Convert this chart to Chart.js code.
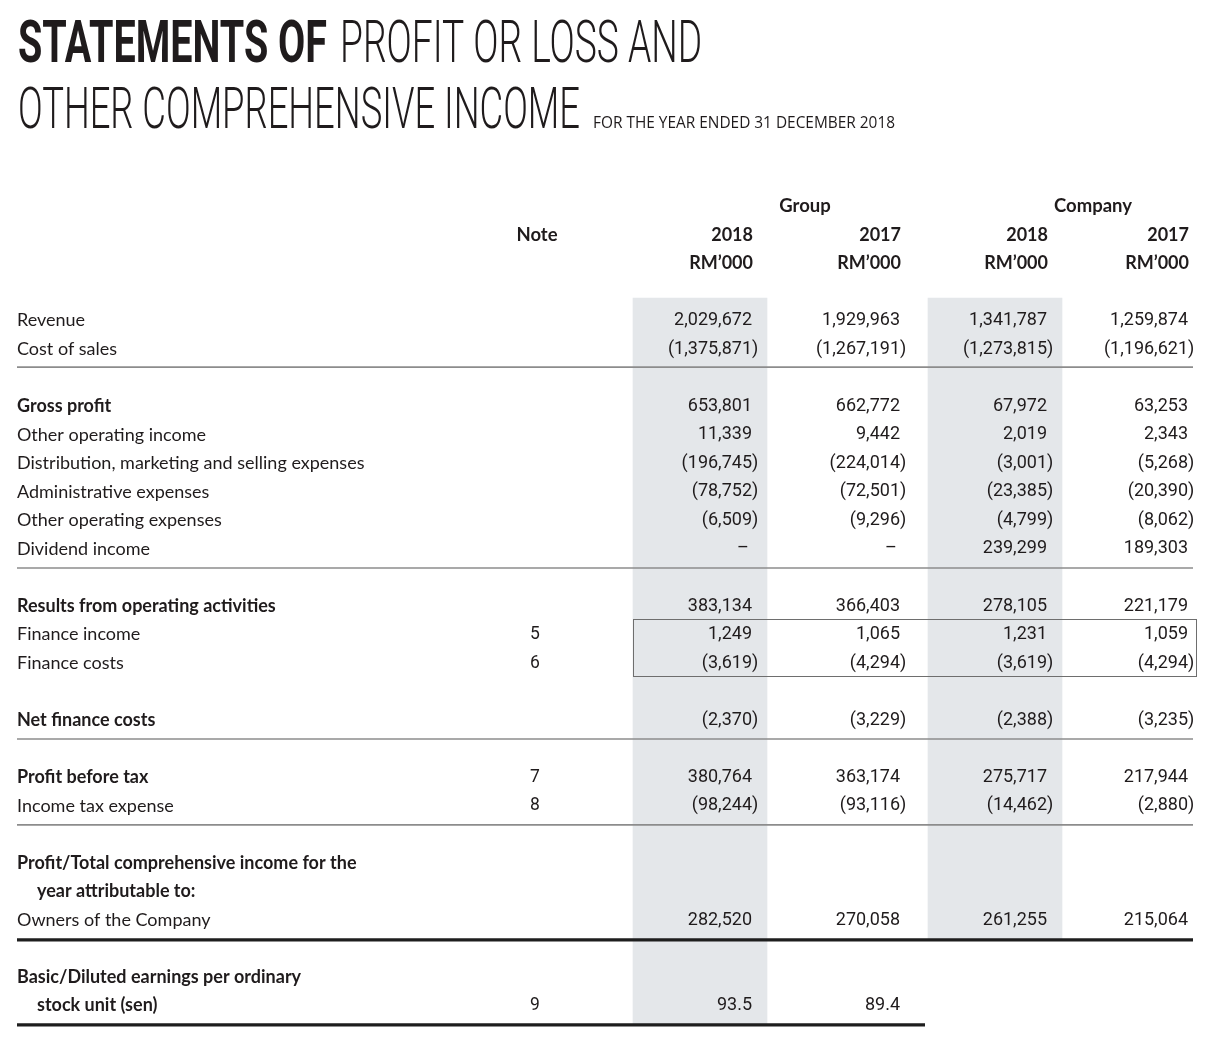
<!DOCTYPE html>
<html><head><meta charset="utf-8">
<script src="https://cdn.jsdelivr.net/npm/chart.js@4.4.0/dist/chart.umd.min.js"></script>
<style>html,body{margin:0;padding:0;background:#fff;overflow:hidden}#wrap{position:relative;width:1210px;height:1038px}</style>
</head><body><div id="wrap"><canvas id="c"></canvas></div>
<script>
// ---------- DATA ----------
const titleBold = 'STATEMENTS OF';
const titleLight1 = 'PROFIT OR LOSS AND';
const titleLight2 = 'OTHER COMPREHENSIVE INCOME';
const subtitle = 'FOR THE YEAR ENDED 31 DECEMBER 2018';
const noteHeader = 'Note';
const entityHeaders = ['Group', 'Company'];
const yearHeaders = ['2018', '2017', '2018', '2017'];
const unitHeader = 'RM\u2019000';
const rowLabels = [
  'Revenue', 'Cost of sales',
  'Gross profit', 'Other operating income', 'Distribution, marketing and selling expenses',
  'Administrative expenses', 'Other operating expenses', 'Dividend income',
  'Results from operating activities', 'Finance income', 'Finance costs',
  'Net finance costs',
  'Profit before tax', 'Income tax expense',
  'Profit/Total comprehensive income for the', 'year attributable to:', 'Owners of the Company',
  'Basic/Diluted earnings per ordinary', 'stock unit (sen)'
];
const notes = ['', '', '', '', '', '', '', '', '', '5', '6', '', '7', '8', '', '', '', '', '9'];
const group2018 = [2029672, -1375871, 653801, 11339, -196745, -78752, -6509, 0, 383134, 1249, -3619, -2370, 380764, -98244, null, null, 282520, null, 93.5];
const group2017 = [1929963, -1267191, 662772, 9442, -224014, -72501, -9296, 0, 366403, 1065, -4294, -3229, 363174, -93116, null, null, 270058, null, 89.4];
const company2018 = [1341787, -1273815, 67972, 2019, -3001, -23385, -4799, 239299, 278105, 1231, -3619, -2388, 275717, -14462, null, null, 261255, null, null];
const company2017 = [1259874, -1196621, 63253, 2343, -5268, -20390, -8062, 189303, 221179, 1059, -4294, -3235, 217944, -2880, null, null, 215064, null, null];

// ---------- LAYOUT / STYLE ----------
const rowSlots = [4, 5, 7, 8, 9, 10, 11, 12, 14, 15, 16, 18, 20, 21, 23, 24, 25, 27, 28];
const boldRows = [2, 8, 11, 12, 14, 15, 17, 18];
const indentRows = [15, 18];
const ROW0_PX = 205, ROW_PITCH = 28.54, PAGE_W = 1210, PAGE_H = 1038;
const TEXT_DY = 1.5;
const LABEL_X = 17, INDENT_X = 37, NOTE_X = 535;
const VALUE_RIGHT = [752, 900, 1047, 1188];
const ENTITY_CENTER = [805, 1093];
const shadedCols = [0, 2];
const shadeTop = 3.26, shadeBottom = [28.73, 25.75];
const rules = [
  {slot: 5.68, x0: 17, x1: 1193, w: 1.6, color: '#8c8c8c'},
  {slot: 12.72, x0: 17, x1: 1193, w: 1.6, color: '#8c8c8c'},
  {slot: 18.71, x0: 17, x1: 1193, w: 1.6, color: '#8c8c8c'},
  {slot: 21.72, x0: 17, x1: 1193, w: 1.6, color: '#8c8c8c'},
  {slot: 25.75, x0: 17, x1: 1193, w: 3.2, color: '#1e1e1e'},
  {slot: 28.73, x0: 17, x1: 925, w: 3.2, color: '#1e1e1e'}
];
const box = {x0: 633, x1: 1196, s0: 14.5, s1: 16.5};
const TEXT = '#1f1b1c';
const LABEL_FONT = '"Lato", "Open Sans", sans-serif';
const NUM_FONT = 'Roboto, "Open Sans", sans-serif';

const valueCols = [group2018, group2017, company2018, company2017];

function fmt(v) {
  if (v === null || v === undefined) return '';
  if (v === 0) return '\u2013';
  const a = Math.abs(v);
  const s = Number.isInteger(a) ? a.toLocaleString('en-US') : a.toFixed(1);
  return v < 0 ? '(' + s + ')' : s;
}

const shadeData = shadedCols.map((c, i) => ({x: VALUE_RIGHT[c] + 15 - 67, y: [shadeTop, shadeBottom[i]]}));

function fitText(ctx, text, x, baseline, targetW, font) {
  ctx.font = font;
  const w = ctx.measureText(text).width;
  ctx.save();
  ctx.translate(x, baseline);
  ctx.scale(targetW / w, 1);
  ctx.textAlign = 'left';
  ctx.textBaseline = 'alphabetic';
  ctx.fillText(text, 0, 0);
  ctx.restore();
}

const tablePlugin = {
  id: 'tablePlugin',
  afterDatasetsDraw(chart) {
    const ctx = chart.ctx, xs = chart.scales.x, ys = chart.scales.y;
    const X = v => xs.getPixelForValue(v), Y = v => ys.getPixelForValue(v);
    const TY = v => Y(v) + TEXT_DY;
    ctx.save();
    // rules
    rules.forEach(r => {
      ctx.beginPath();
      ctx.strokeStyle = r.color; ctx.lineWidth = r.w;
      ctx.moveTo(X(r.x0), Y(r.slot)); ctx.lineTo(X(r.x1), Y(r.slot));
      ctx.stroke();
    });
    // box
    ctx.strokeStyle = '#6e6e6e'; ctx.lineWidth = 1;
    ctx.strokeRect(Math.round(X(box.x0)) + 0.5, Math.round(Y(box.s0)) + 0.5,
      Math.round(X(box.x1) - X(box.x0)), Math.round(Y(box.s1) - Y(box.s0)));

    ctx.fillStyle = TEXT;
    // title
    fitText(ctx, titleBold, 18, 62, 309, '700 59px Roboto, sans-serif');
    fitText(ctx, titleLight1, 340, 62, 362, '300 59px Roboto, sans-serif');
    fitText(ctx, titleLight2, 18, 128, 562, '300 58px Roboto, sans-serif');
    fitText(ctx, subtitle, 593, 128, 302, '400 17px "Open Sans", sans-serif');

    ctx.textBaseline = 'middle';
    // headers
    ctx.font = '700 18.5px ' + LABEL_FONT;
    ctx.textAlign = 'center';
    entityHeaders.forEach((h, i) => ctx.fillText(h, X(ENTITY_CENTER[i]), TY(0)));
    ctx.fillText(noteHeader, X(NOTE_X + 2), TY(1));
    ctx.textAlign = 'right';
    ctx.font = '700 18px ' + LABEL_FONT;
    yearHeaders.forEach((h, i) => {
      ctx.fillText(h, X(VALUE_RIGHT[i] + 1), TY(1));
      ctx.fillText(unitHeader, X(VALUE_RIGHT[i] + 1), TY(2));
    });
    // rows
    rowLabels.forEach((lab, i) => {
      const y = TY(rowSlots[i]);
      const bold = boldRows.includes(i);
      ctx.font = (bold ? '700 ' : '400 ') + '18px ' + LABEL_FONT;
      ctx.textAlign = 'left';
      ctx.fillText(lab, X(indentRows.includes(i) ? INDENT_X : LABEL_X), y);
      if (notes[i]) {
        ctx.font = '400 17.5px ' + NUM_FONT;
        ctx.textAlign = 'center';
        ctx.fillText(notes[i], X(NOTE_X), y);
      }
      ctx.font = '400 18px ' + NUM_FONT;
      const pw = ctx.measureText(')').width;
      valueCols.forEach((col, c) => {
        const v = col[i];
        const s = fmt(v);
        if (!s) return;
        if (v === 0) { ctx.textAlign = 'center'; ctx.fillText(s, X(VALUE_RIGHT[c] - 9), y); return; }
        ctx.textAlign = 'right';
        ctx.fillText(s, X(VALUE_RIGHT[c]) + (v < 0 ? pw : 0), y);
      });
    });
    ctx.restore();
  }
};

Chart.defaults.animation = false;
new Chart(document.getElementById('c'), {
  type: 'bar',
  data: {
    datasets: [{
      label: 'shade',
      data: shadeData,
      backgroundColor: '#e4e7ea',
      borderWidth: 0,
      barThickness: 134,
      grouped: false
    }]
  },
  options: {
    responsive: true,
    maintainAspectRatio: false,
    events: [],
    layout: {padding: 0},
    plugins: {legend: {display: false}, tooltip: {enabled: false}, title: {display: false}},
    scales: {
      x: {type: 'linear', min: 0, max: PAGE_W, offset: false, display: false},
      y: {type: 'linear', reverse: true, min: -ROW0_PX / ROW_PITCH, max: (PAGE_H - ROW0_PX) / ROW_PITCH, display: false}
    }
  },
  plugins: [tablePlugin]
});
</script>
</body></html>
